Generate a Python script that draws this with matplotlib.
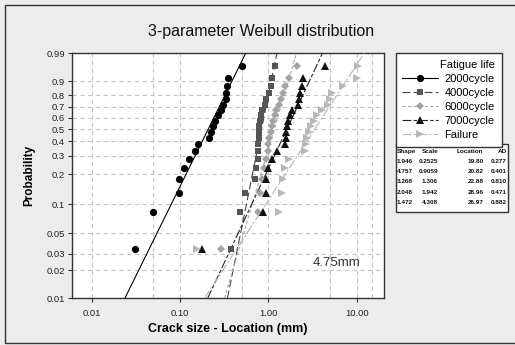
import numpy as np
import matplotlib
matplotlib.use("Agg")
import matplotlib.pyplot as plt
from matplotlib.patches import Rectangle
from matplotlib.ticker import NullLocator, NullFormatter

plt.rcParams['font.family'] = ['Liberation Sans', 'DejaVu Sans']

# median-rank probabilities (20 specimens per group)
prob = [0.034, 0.083, 0.132, 0.181, 0.230, 0.279, 0.328, 0.377, 0.426, 0.475,
        0.525, 0.574, 0.623, 0.672, 0.721, 0.770, 0.819, 0.868, 0.917, 0.966]

# crack size - location (mm)
c2000 = [0.031, 0.050, 0.097, 0.097, 0.111, 0.128, 0.149, 0.160, 0.212, 0.226,
         0.235, 0.250, 0.270, 0.290, 0.305, 0.330, 0.335, 0.337, 0.352, 0.505]
c4000 = [0.378, 0.480, 0.540, 0.700, 0.720, 0.755, 0.763, 0.770, 0.775, 0.778,
         0.783, 0.797, 0.818, 0.855, 0.910, 0.950, 1.030, 1.060, 1.100, 1.180]
c6000 = [0.290, 0.770, 0.815, 0.855, 0.885, 0.930, 0.980, 1.000, 1.030, 1.070,
         1.100, 1.130, 1.180, 1.230, 1.320, 1.400, 1.460, 1.550, 1.710, 2.130]
c7000 = [0.179, 0.880, 0.930, 0.950, 0.990, 1.090, 1.240, 1.560, 1.580, 1.600,
         1.620, 1.670, 1.740, 1.840, 2.170, 2.220, 2.300, 2.400, 2.500, 4.400]
cfail = [0.155, 1.320, 1.430, 1.470, 1.530, 1.720, 2.600, 2.680, 2.750, 2.850,
         3.050, 3.300, 3.550, 4.000, 4.700, 4.950, 5.200, 7.000, 10.000, 10.300]

labels = ['2000cycle', '4000cycle', '6000cycle', '7000cycle', 'Failure']

# fitted parameters (table)
shape = [1.946, 4.757, 3.268, 2.048, 1.472]
scale = [0.2525, 0.9059, 1.306, 1.942, 4.308]
location = [19.80, 20.82, 22.88, 28.96, 26.97]
ad = [0.277, 0.401, 0.810, 0.471, 0.882]

ytick_vals = [0.01, 0.02, 0.03, 0.05, 0.1, 0.2, 0.3, 0.4, 0.5, 0.6, 0.7, 0.8, 0.9, 0.99]
ytick_labels = ['0.01', '0.02', '0.03', '0.05', '0.1', '0.2', '0.3', '0.4', '0.5',
                '0.6', '0.7', '0.8', '0.9', '0.99']
xtick_vals = [0.01, 0.1, 1, 10]
xtick_labels = ['0.01', '0.10', '1.00', '10.00']
xgrid_vals = [0.01, 0.05, 0.1, 0.5, 1, 5, 10, 15]

series = [c2000, c4000, c6000, c7000, cfail]
markers = ['o', 's', 'D', '^', '>']
msizes = [5.2, 4.8, 4.4, 5.2, 5.2]
mcolors = ['#000000', '#555555', '#a3a3a3', '#111111', '#b8b8b8']
lcolors = ['#000000', '#444444', '#a8a8a8', '#222222', '#b5b5b5']
lstyles = ['-', (0, (7, 3)), (0, (3, 2)), (0, (8, 2, 3, 2)), (0, (8, 2, 2, 2))]


def fwd(p):
    p = np.clip(p, 1e-9, 1 - 1e-9)
    return np.log(-np.log(1 - p))


def inv(w):
    return 1 - np.exp(-np.exp(w))


W, H = 515, 345
fig = plt.figure(figsize=(W / 100, H / 100), dpi=100, facecolor='#ececec')
fig.patches.append(Rectangle((5 / W, 2 / H), 1, 338 / H, transform=fig.transFigure,
                             fill=False, edgecolor='#333333', lw=1))

ax = fig.add_axes([71.7 / W, (H - 298.3) / H, (384 - 71.7) / W, (298.3 - 53.3) / H])
ax.set_facecolor('white')
ax.set_xscale('log')
ax.set_yscale('function', functions=(fwd, inv))
ax.set_xlim(0.00594, 20.4)
ax.set_ylim(0.01, 0.99)

handles = []
for i, xs in enumerate(series):
    pf = np.array([0.01, 0.99])
    xf = scale[i] * (-np.log(1 - pf)) ** (1 / shape[i])
    ln, = ax.plot(xf, pf, color=lcolors[i], ls=lstyles[i], lw=0.8, zorder=3)
    pt, = ax.plot(xs, prob, ls='none', marker=markers[i], ms=msizes[i],
                  color=mcolors[i], mec=mcolors[i], mew=0, zorder=4)
    handles.append((ln, pt))

ax.set_yticks(ytick_vals, labels=ytick_labels)
ax.yaxis.set_minor_locator(NullLocator())
ax.set_xticks(xtick_vals, labels=xtick_labels)
ax.set_xticks(xgrid_vals, minor=True)
ax.xaxis.set_minor_formatter(NullFormatter())
ax.tick_params(axis='x', which='minor', length=0)
ax.tick_params(which='major', length=3, width=0.8, color='#333333',
               labelsize=6.8, labelcolor='#222222', pad=2)
ax.tick_params(axis='x', which='major', pad=5)
ax.grid(True, axis='x', which='both', ls=(0, (4, 3)), color='#c4c4c4', lw=0.8)
ax.grid(True, axis='y', which='major', ls=(0, (4, 3)), color='#c4c4c4', lw=0.8)
ax.set_axisbelow(True)
for s in ax.spines.values():
    s.set_color('#333333')
    s.set_linewidth(1.0)

ax.set_xlabel('Crack size - Location (mm)', fontsize=9, fontweight='bold', labelpad=3)
ax.set_ylabel('Probability', fontsize=8.5, fontweight='bold', labelpad=8)
ax.text(0.773, 0.144, '4.75mm', transform=ax.transAxes, fontsize=9.5,
        color='#333333', va='center', ha='left')

fig.text(261 / W, 1 - 31.7 / H, '3-parameter Weibull distribution', fontsize=11.5,
         ha='center', va='center', color='#111111')

leg = fig.legend(handles, labels, loc='upper left',
                 bbox_to_anchor=(395.7 / W, 1 - 53.3 / H), bbox_transform=fig.transFigure,
                 borderaxespad=0, title='Fatigue life', alignment='right',
                 fontsize=8, title_fontsize=8, handlelength=3.2, handletextpad=0.6,
                 borderpad=0.6, labelspacing=0.36, fancybox=False, framealpha=1,
                 edgecolor='#333333', facecolor='white')
leg.get_frame().set_linewidth(1.0)

# parameter table
tx0, tx1, ty0, ty1 = 395.5, 507.5, 144, 212
fig.patches.append(Rectangle((tx0 / W, 1 - ty1 / H), (tx1 - tx0) / W, (ty1 - ty0) / H,
                             transform=fig.transFigure, facecolor='white',
                             edgecolor='#333333', lw=1))
col_right = [415, 438, 483.5, 506.5]
header = ['Shape', 'Scale', 'Location', 'AD']
tfont = dict(fontsize=4.6, fontweight='bold', va='center', color='#111111')
for j, h in enumerate(header):
    if j == 0:
        fig.text(396.5 / W, 1 - 151.7 / H, h, ha='left', **tfont)
    else:
        fig.text(col_right[j] / W, 1 - 151.7 / H, h, ha='right', **tfont)
for i in range(len(shape)):
    y = 1 - (161.7 + 10.1 * i) / H
    cells = [f'{shape[i]:.3f}', f'{scale[i]:.4g}', f'{location[i]:.2f}', f'{ad[i]:.3f}']
    for j, c in enumerate(cells):
        if j == 0:
            fig.text(397 / W, y, c, ha='left', **tfont)
        else:
            fig.text(col_right[j] / W, y, c, ha='right', **tfont)

fig.savefig('out.png', dpi=100, facecolor=fig.get_facecolor())
